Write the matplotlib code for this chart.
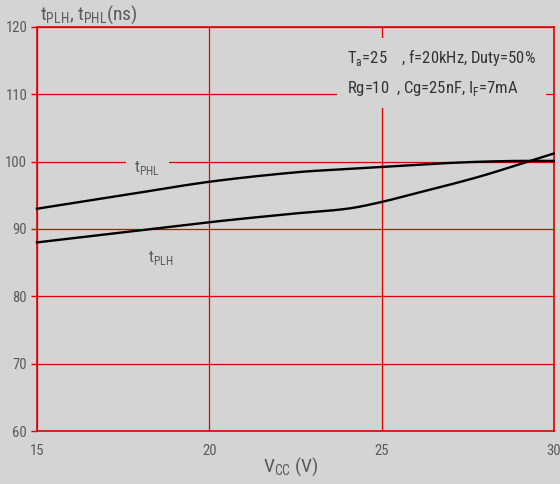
import matplotlib
matplotlib.use("Agg")
import matplotlib.pyplot as plt
from matplotlib import font_manager
import numpy as np

# Data
vcc = [15, 17.5, 20, 22.5, 24, 25, 26, 27, 28, 29, 30]
t_phl = [93, 95.0, 97, 98.4, 98.9, 99.2, 99.5, 99.8, 100.0, 100.1, 100.1]
t_plh = [88, 89.5, 91, 92.3, 93.0, 94.0, 95.3, 96.6, 98.0, 99.6, 101.2]
xticks = [15, 20, 25, 30]
yticks = [60, 70, 80, 90, 100, 110, 120]

names = {f.name for f in font_manager.fontManager.ttflist}
fam = [n for n in ["Liberation Sans Narrow", "Roboto Condensed", "Liberation Sans"] if n in names] + ["DejaVu Sans"]
plt.rcParams['font.family'] = fam

bg = "#d4d4d4"
red = "#e00000"
tc = "#5a5a5a"

fig = plt.figure(figsize=(5.6, 4.84), dpi=100, facecolor=bg)
ax = fig.add_axes([0.066, 0.1095, 0.923, 0.835])
ax.set_facecolor(bg)

ax.set_xlim(15, 30)
ax.set_ylim(60, 120)
ax.set_xticks(xticks)
ax.set_yticks(yticks)
ax.grid(True, color=red, linewidth=0.9)
for s in ax.spines.values():
    s.set_color(red)
    s.set_linewidth(1.2)
ax.tick_params(axis='both', colors=red, labelcolor=tc, labelsize=10.5, length=4, width=1)
ax.tick_params(axis='x', pad=9, length=0)
ax.tick_params(axis='y', pad=3)

def smooth(x, y):
    xs = np.linspace(min(x), max(x), 200)
    x = np.asarray(x, float); y = np.asarray(y, float)
    out = []
    for i in range(len(x) - 1):
        x0, x1 = x[i], x[i+1]
        m0 = (y[min(i+1, len(x)-1)] - y[max(i-1, 0)]) / (x[min(i+1, len(x)-1)] - x[max(i-1, 0)])
        m1 = (y[min(i+2, len(x)-1)] - y[i]) / (x[min(i+2, len(x)-1)] - x[i])
        seg = xs[(xs >= x0) & ((xs < x1) | (i == len(x) - 2) & (xs <= x1))]
        h = x1 - x0
        t = (seg - x0) / h
        h00 = 2*t**3 - 3*t**2 + 1; h10 = t**3 - 2*t**2 + t
        h01 = -2*t**3 + 3*t**2; h11 = t**3 - t**2
        out.append(h00*y[i] + h10*h*m0 + h01*y[i+1] + h11*h*m1)
    return xs, np.concatenate(out)

for yv in (t_phl, t_plh):
    xs, ys = smooth(vcc, yv)
    ax.plot(xs, ys, color="black", linewidth=1.7, zorder=3, clip_on=False)

ax.text(18.2, 99, "t$_{\\mathregular{PHL}}$", fontsize=12, color=tc, ha="center", va="center",
        bbox=dict(facecolor=bg, edgecolor="none", pad=6), zorder=4)
ax.text(18.6, 85.7, "t$_{\\mathregular{PLH}}$", fontsize=12, color=tc, ha="center", va="center", zorder=4)

ax.text(24.0, 113.2,
        "T$_{\\mathregular{a}}$=25    , f=20kHz, Duty=50%\nRg=10  , Cg=25nF, I$_{\\mathregular{F}}$=7mA",
        fontsize=12, color="#333333", ha="left", va="center", linespacing=1.75,
        bbox=dict(facecolor=bg, edgecolor="none", pad=7), zorder=4)

fig.text(0.072, 0.97, "t$_{\\mathregular{PLH}}$, t$_{\\mathregular{PHL}}$(ns)", fontsize=14, color=tc, ha="left", va="center")
fig.text(0.52, 0.035, "V$_{\\mathregular{CC}}$ (V)", fontsize=14, color=tc, ha="center", va="center")

fig.savefig("out.png", dpi=100, facecolor=bg)
